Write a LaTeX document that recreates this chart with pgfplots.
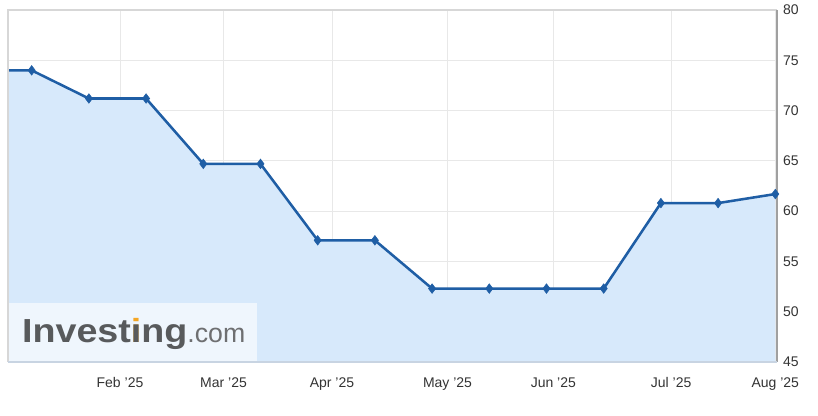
\documentclass[border=0pt]{standalone}
\usepackage{pgfplots}
\pgfplotsset{compat=1.18}
\usepackage{fontspec}
\setmainfont{Liberation Sans}

\definecolor{linec}{RGB}{31,94,165}
\definecolor{fillc}{RGB}{215,233,251}
\definecolor{gridc}{RGB}{232,232,232}
\definecolor{framec}{RGB}{215,215,215}
\definecolor{rightc}{RGB}{160,160,160}
\definecolor{bottomc}{RGB}{200,212,226}
\definecolor{labelc}{RGB}{51,51,51}
\definecolor{logoc}{RGB}{88,90,92}
\definecolor{comc}{RGB}{110,111,113}
\definecolor{dotc}{RGB}{245,166,35}

% index of the semi-monthly readings; first row is the left edge of the plot
\pgfplotstableread{
x       y
-0.414  74.0
0       74.0
1       71.2
2       71.2
3       64.7
4       64.7
5       57.1
6       57.1
7       52.3
8       52.3
9       52.3
10      52.3
11      60.8
12      60.8
13      61.7
}\datatable

\begin{document}
\begin{tikzpicture}
\useasboundingbox (0pt,0pt) rectangle (613.5pt,312pt);
\begin{axis}[
    at={(6pt,40.5pt)}, anchor=south west,
    scale only axis,
    width=576.75pt, height=264pt,
    xmin=-0.414, xmax=13.03,
    ymin=45, ymax=80,
    ytick={45,50,...,80},
    xtick={1.544,3.355,5.25,7.27,9.12,11.18,13.0},
    xticklabels={Feb '25,Mar '25,Apr '25,May '25,Jun '25,Jul '25,Aug '25},
    yticklabel pos=right,
    major tick length=0pt,
    grid=major,
    major grid style={gridc, line width=0.6pt},
    axis line style={draw=none},
    tick label style={font=\fontsize{10.5}{12}\selectfont, text=labelc},
    yticklabel style={xshift=1pt},
    xticklabel style={yshift=-8pt},
    /pgf/number format/assume math mode=true,
    clip=false,
]
\addplot[draw=none, fill=fillc] table[x=x, y=y] {\datatable} \closedcycle;

% watermark box
\fill[white, fill opacity=0.6] (rel axis cs:0,0) rectangle (rel axis cs:0.324,0.168);
\node[anchor=base west, inner sep=0pt, text=logoc] at (rel axis cs:0.018,0.054)
  {\scalebox{1.13}[1]{\fontsize{25}{26}\selectfont\bfseries Invest\rlap{\textcolor{dotc}{i}}ıng}{\fontsize{20}{24}\selectfont\textcolor{comc}{.com}}};

\addplot[linec, line width=1.9pt, mark=diamond*, mark size=3.6pt,
  mark indices={2,...,15}, mark options={solid, fill=linec, line width=0.4pt}]
  table[x=x, y=y] {\datatable};

\draw[framec, line width=0.8pt] (rel axis cs:0,0) -- (rel axis cs:0,1) -- (rel axis cs:1,1);
\draw[rightc, line width=0.8pt] (rel axis cs:1,1) -- (rel axis cs:1,0);
\draw[bottomc, line width=1pt] (rel axis cs:0,0) -- (rel axis cs:1,0);
\end{axis}
\end{tikzpicture}
\end{document}
